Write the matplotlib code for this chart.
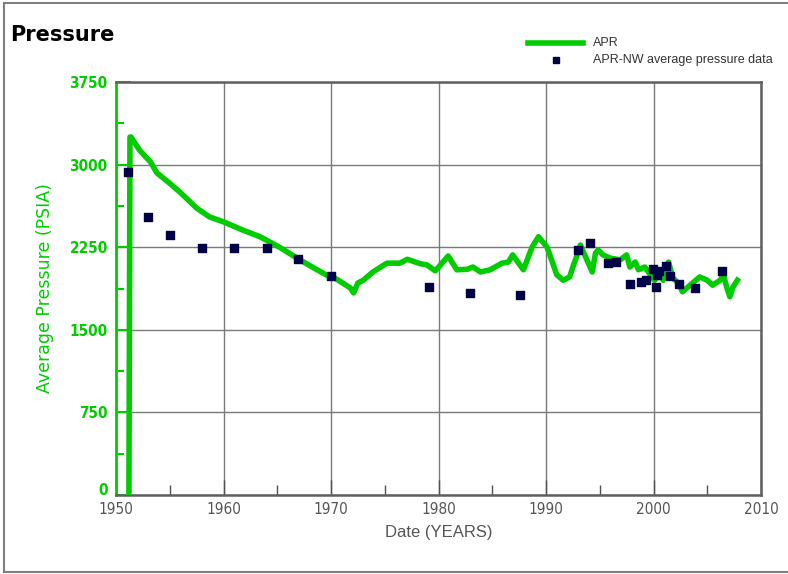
import numpy as np
import matplotlib.pyplot as plt
from matplotlib.lines import Line2D
from matplotlib.ticker import MultipleLocator

# APR simulated average pressure (year, psia)
apr_year = [1951.2, 1951.3, 1951.4, 1952.2, 1953.2, 1953.8, 1955.0, 1955.95, 1957.5, 1958.7,
            1960.0, 1961.8, 1963.4, 1965.3, 1967.1, 1968.7, 1969.9, 1970.2, 1971.8, 1972.1,
            1972.5, 1973.0, 1973.9, 1975.2, 1976.4, 1977.1, 1978.3, 1978.9, 1979.7, 1980.9,
            1981.7, 1982.7, 1983.2, 1983.9, 1984.8, 1985.9, 1986.5, 1986.9, 1987.9, 1988.7,
            1989.3, 1990.1, 1991.0, 1991.6, 1992.2, 1992.5, 1992.9, 1993.2, 1993.6, 1994.3,
            1994.6, 1994.85, 1995.3, 1996.0, 1996.9, 1997.5, 1997.8, 1998.3, 1998.6, 1999.2,
            1999.7, 2000.1, 2000.6, 2000.9, 2001.2, 2001.4, 2001.8, 2002.3, 2002.7, 2003.4,
            2004.3, 2005.0, 2005.5, 2006.2, 2006.5, 2006.8, 2007.1, 2007.4, 2007.8]
apr_psia = [0, 3250, 3250, 3130, 3025, 2925, 2830, 2750, 2605, 2525,
            2480, 2405, 2345, 2245, 2135, 2045, 1980, 1980, 1880, 1835,
            1925, 1950, 2025, 2105, 2105, 2140, 2100, 2090, 2035, 2170,
            2045, 2050, 2070, 2025, 2045, 2105, 2115, 2180, 2045, 2250,
            2345, 2250, 2000, 1950, 1980, 2070, 2180, 2270, 2180, 2025,
            2195, 2225, 2180, 2150, 2135, 2180, 2070, 2115, 2045, 2070,
            2000, 1950, 2000, 1950, 2070, 2115, 1970, 1925, 1845, 1905,
            1980, 1950, 1905, 1950, 2000, 1890, 1800, 1890, 1950]

# APR-NW measured average pressure
nw_year = [1951.1, 1953.0, 1955.0, 1958.0, 1961.0, 1964.0, 1966.9, 1970.0, 1979.1, 1982.9,
           1987.55, 1993.0, 1994.05, 1995.8, 1996.5, 1997.8, 1998.8, 1999.3, 1999.98, 2000.5,
           2000.35, 2000.2, 2001.2, 2001.5, 2002.4, 2003.9, 2006.4]
nw_psia = [2935, 2525, 2365, 2240, 2240, 2240, 2145, 1985, 1885, 1835,
           1815, 2225, 2290, 2105, 2115, 1920, 1935, 1950, 2050, 2030,
           2000, 1890, 2075, 1990, 1915, 1880, 2030]

green = '#00cc00'
navy = '#000048'
grey = '#555555'

fig = plt.figure(figsize=(7.88, 5.74), dpi=100)
ax = fig.add_axes([116 / 788, 1 - 495 / 574, 645 / 788, 413 / 574])

ax.plot(apr_year, apr_psia, color=green, lw=4, solid_joinstyle='round', zorder=3)
ax.scatter(nw_year, nw_psia, marker='s', s=30, color=navy, zorder=4)

ax.set_xlim(1950, 2010)
ax.set_ylim(0, 3750)
ax.xaxis.set_major_locator(MultipleLocator(10))
ax.xaxis.set_minor_locator(MultipleLocator(5))
ax.yaxis.set_major_locator(MultipleLocator(750))
ax.yaxis.set_minor_locator(MultipleLocator(375))
ax.grid(True, which='major', color='#7a7a7a', lw=1)

ax.tick_params(axis='x', which='major', direction='in', length=11, width=1, color='#505050', pad=5)
ax.tick_params(axis='x', which='minor', direction='in', length=7, width=1, color='#505050')
ax.tick_params(axis='y', which='major', direction='in', length=11, width=1.5, color=green, pad=6)
ax.tick_params(axis='y', which='minor', direction='in', length=6, width=1.5, color=green)

for lab in ax.get_xticklabels():
    lab.set_fontstretch('condensed')
    lab.set_fontsize(11)
    lab.set_color(grey)
for lab in ax.get_yticklabels():
    lab.set_fontstretch('condensed')
    lab.set_fontsize(11)
    lab.set_color(green)
    lab.set_fontweight('bold')
    # keep the "0" clear of the "1950" label underneath
    lab.set_va('baseline' if lab.get_text() == '0' else 'center_baseline')

ax.spines['left'].set_color(green)
ax.spines['left'].set_linewidth(2)
for side in ['top', 'right', 'bottom']:
    ax.spines[side].set_color('#606060')
    ax.spines[side].set_linewidth(1.8)

ax.set_xlabel('Date (YEARS)', fontsize=12, color=grey, family=['Liberation Sans', 'DejaVu Sans'], labelpad=6)
ax.set_ylabel('Average Pressure (PSIA)', fontsize=12.5, color=green, labelpad=11)

fig.text(10 / 788, 1 - 35 / 574, 'Pressure', fontsize=15, fontweight='bold', color='black',
         va='center', ha='left')

# legend drawn above the plot area on the right
fig.add_artist(Line2D([528 / 788, 583 / 788], [1 - 43 / 574, 1 - 43 / 574], color=green, lw=4))
fig.add_artist(Line2D([556 / 788], [1 - 60 / 574], marker='s', markersize=5, color=navy, lw=0))
fig.text(593 / 788, 1 - 43 / 574, 'APR', fontsize=9, color='#333333', va='center',
         family=['Liberation Sans', 'DejaVu Sans'])
fig.text(593 / 788, 1 - 60 / 574, 'APR-NW average pressure data', fontsize=9, color='#333333',
         va='center', family=['Liberation Sans', 'DejaVu Sans'])

# frame around the picture (left, top and bottom edges)
fy0, fy1, fx0 = 1 - 572 / 574, 1 - 3 / 574, 4 / 788
fig.add_artist(Line2D([fx0, fx0], [fy0, fy1], color='#808080', lw=1.5))
fig.add_artist(Line2D([fx0, 1], [fy1, fy1], color='#808080', lw=1.5))
fig.add_artist(Line2D([fx0, 1], [fy0, fy0], color='#808080', lw=1.5))

fig.savefig('out.png', dpi=100)
